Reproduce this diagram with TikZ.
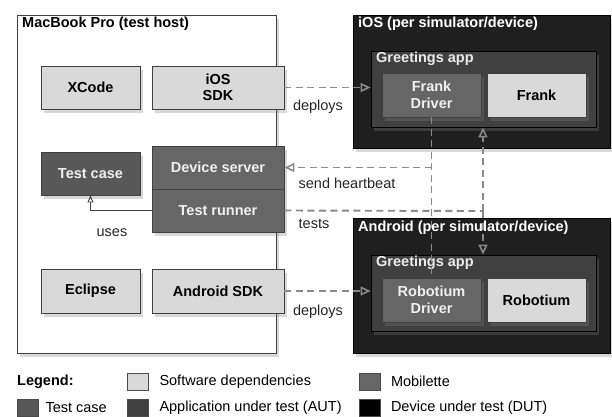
\documentclass[tikz,border=0pt]{standalone}
\usepackage{fontspec}
\setmainfont{Liberation Sans}
\usetikzlibrary{arrows.meta,shadows,positioning}

\definecolor{depgray}{HTML}{D9D9D9}
\definecolor{mobgray}{HTML}{666666}
\definecolor{casegray}{HTML}{585858}
\definecolor{autgray}{HTML}{404040}
\definecolor{dutgray}{HTML}{1F1F1F}
\definecolor{linkgray}{HTML}{8A8A8A}

\begin{document}
\begin{tikzpicture}[
    x=1pt, y=-1pt,
    every node/.style={inner sep=0pt, align=center, font=\fontsize{14.5}{16.5}\selectfont},
    box/.style={draw=black!75, line width=0.8pt, font=\bfseries\fontsize{14.5}{16.5}\selectfont,
        drop shadow={shadow xshift=2.5pt, shadow yshift=-3.5pt, opacity=0.3}},
    softdep/.style={box, fill=depgray, text=black},
    mobil/.style={box, fill=mobgray, text=white!94!black},
    casebox/.style={box, fill=casegray, text=white!94!black},
    autbox/.style={box, fill=autgray, draw=black},
    dutbox/.style={box, fill=dutgray, draw=black},
    hostbox/.style={box, fill=white},
    title/.style={anchor=west, font=\bfseries\fontsize{14.5}{16.5}\selectfont},
    link/.style={dashed, dash pattern=on 7pt off 4.5pt, line width=1.9pt, draw=linkgray,
        -{Triangle[open, length=10pt, width=9pt, line width=1.6pt]}},
    uses/.style={line width=0.9pt, draw=black!75, -{Triangle[open, length=7pt, width=6pt]}},
    swatch/.style={draw=black!70, line width=0.6pt, minimum width=21pt, minimum height=17pt}
]
\useasboundingbox (0,0) rectangle (612,416);

% test host
\node[hostbox, minimum width=259pt, minimum height=338pt] (host) at (146.5,184) {};
\node[title] (hosttitle) at (22,24) {MacBook Pro (test host)};
\node[softdep, minimum width=99pt, minimum height=43pt] (xcode) at (90.5,87.5) {XCode};
\node[softdep, minimum width=132pt, minimum height=43pt] (iossdk) at (218,87.5) {iOS\\SDK};
\node[casebox, minimum width=99pt, minimum height=43pt] (testcase) at (90.5,173.5) {Test case};
\node[mobil, minimum width=132pt, minimum height=43pt] (dserver) at (218,167.5) {Device server};
\node[mobil, minimum width=132pt, minimum height=43pt] (runner) at (218,210.5) {Test runner};
\node[softdep, minimum width=99pt, minimum height=44pt] (eclipse) at (90.5,291) {Eclipse};
\node[softdep, minimum width=132pt, minimum height=44pt] (andsdk) at (218,291) {Android SDK};

% iOS device
\node[dutbox, minimum width=257pt, minimum height=133pt] (iosbox) at (481.5,81.5) {};
\node[title, text=white] (iostitle) at (358,24) {iOS (per simulator/device)};
\node[autbox, minimum width=225pt, minimum height=76pt] (iosapp) at (483.5,89) {};
\node[title, text=white!92!black] (iosapptitle) at (376,59) {Greetings app};
\node[mobil, minimum width=99pt, minimum height=44pt] (frankdrv) at (431.5,95) {Frank\\Driver};
\node[softdep, minimum width=99pt, minimum height=44pt] (frank) at (536.5,95) {Frank};

% Android device
\node[dutbox, minimum width=257pt, minimum height=135pt] (andbox) at (481.5,285.5) {};
\node[title, text=white] (andtitle) at (358,228) {Android (per simulator/device)};
\node[autbox, minimum width=225pt, minimum height=76pt] (andapp) at (483.5,293) {};
\node[title, text=white!92!black] (andapptitle) at (376,263) {Greetings app};
\node[mobil, minimum width=99pt, minimum height=44pt] (robdrv) at (431.5,300) {Robotium\\Driver};
\node[softdep, minimum width=99pt, minimum height=44pt] (robot) at (536.5,300) {Robotium};

% connectors
\coordinate (hb) at (431.5,167.5);
\coordinate (tj) at (483,211);
\draw[link] (iossdk.east) -- (iossdk.east -| iosapp.west);
\draw[link] (andsdk.east) -- (andsdk.east -| andapp.west);
\draw[link, -] (frankdrv.south) -- (robdrv.north);
\draw[link] (hb) -- (dserver.east);
\draw[link, -] (runner.east) -- (tj);
\draw[link] (tj) -- (tj |- iosapp.south);
\draw[link] (tj) -- (tj |- andapp.north);
\draw[uses] (runner.west) -| (testcase.south);

\node[text=black!85] (deploys1) at (318,107) {deploys};
\node[text=black!85] (heartbeat) at (347,183) {send heartbeat};
\node[text=black!85] (tests) at (314,224) {tests};
\node[text=black!85] (useslbl) at (112,233) {uses};
\node[text=black!85] (deploys2) at (318,312) {deploys};

% legend
\node[anchor=west, font=\bfseries\fontsize{14.5}{16.5}\selectfont] (legend) at (17,382) {Legend:};
\node[swatch, fill=depgray] (swdep) at (137.5,381.5) {};
\node[anchor=west, right=11pt of swdep] {Software dependencies};
\node[swatch, fill=mobgray] (swmob) at (370,381.5) {};
\node[anchor=west, right=10pt of swmob] {Mobilette};
\node[swatch, fill=casegray] (swcase) at (27.5,407.5) {};
\node[anchor=west, right=7pt of swcase] {Test case};
\node[swatch, fill=autgray] (swaut) at (137.5,407.5) {};
\node[anchor=west, right=11pt of swaut] {Application under test (AUT)};
\node[swatch, fill=black] (swdut) at (370,407.5) {};
\node[anchor=west, right=10pt of swdut] {Device under test (DUT)};
\end{tikzpicture}
\end{document}
